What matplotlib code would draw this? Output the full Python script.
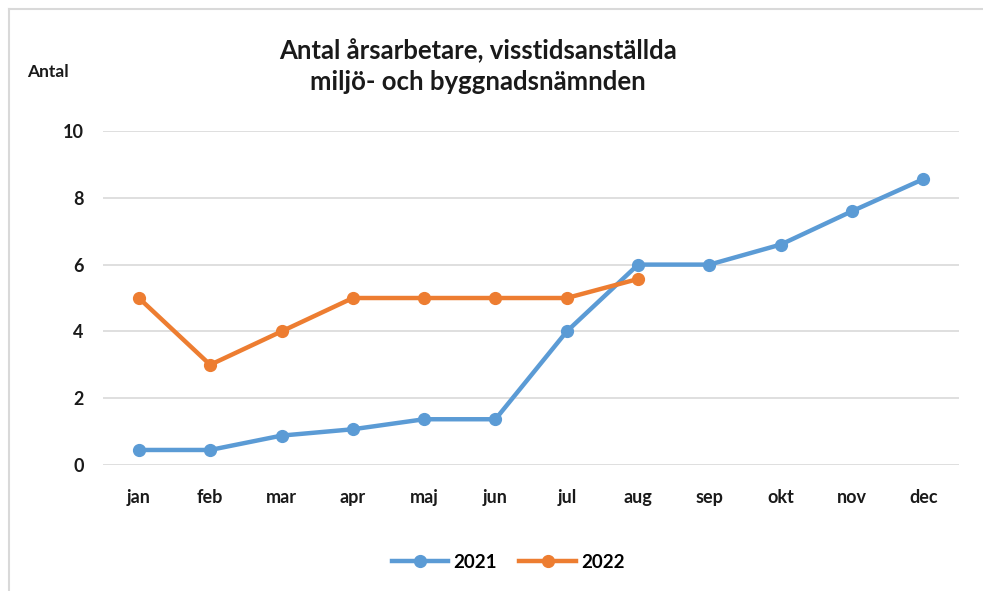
import matplotlib.pyplot as plt
from matplotlib.lines import Line2D

# data
months = ["jan", "feb", "mar", "apr", "maj", "jun", "jul", "aug", "sep", "okt", "nov", "dec"]
values_2021 = [0.45, 0.45, 0.88, 1.07, 1.37, 1.37, 4.0, 6.0, 6.0, 6.6, 7.6, 8.56]
values_2022 = [5.0, 3.0, 4.0, 5.0, 5.0, 5.0, 5.0, 5.57]
yticks = [0, 2, 4, 6, 8, 10]

plt.rcParams["font.family"] = ["Lato", "DejaVu Sans"]
plt.rcParams["font.weight"] = "bold"

blue = "#5B9BD5"
orange = "#ED7D31"

fig = plt.figure(figsize=(9.83, 5.91), dpi=100)
ax = fig.add_axes([0.105, 0.2132, 0.8706, 0.5651])

x = list(range(len(months)))
ax.plot(x, values_2021, color=blue, lw=3.2, marker="o", ms=8.5, label="2021",
        solid_capstyle="round", zorder=3)
ax.plot(x[:len(values_2022)], values_2022, color=orange, lw=3.2, marker="o", ms=8.5,
        label="2022", solid_capstyle="round", zorder=4)

ax.set_xlim(-0.5, len(months) - 0.5)
ax.set_ylim(0, 10)
ax.set_yticks(yticks)
ax.set_xticks(x)
ax.set_xticklabels(months)
ax.tick_params(axis="both", length=0, labelsize=13, colors="#1a1a1a")
ax.tick_params(axis="y", pad=14)
ax.tick_params(axis="x", pad=17)
ax.grid(axis="y", color="#d9d9d9", lw=1.2)
ax.set_axisbelow(True)
for s in ax.spines.values():
    s.set_visible(False)

fig.text(0.486, 0.888, "Antal årsarbetare, visstidsanställda\nmiljö- och byggnadsnämnden",
         ha="center", va="center", fontsize=18.5, fontweight="bold", linespacing=1.3,
         color="#1a1a1a")
fig.text(0.049, 0.878, "Antal", ha="center", va="center", fontsize=12.5,
         fontweight="bold", color="#1a1a1a")

handles = [Line2D([], [], color=blue, lw=3.2, marker="o", ms=8.5),
           Line2D([], [], color=orange, lw=3.2, marker="o", ms=8.5)]
fig.legend(handles, ["2021", "2022"], loc="center", bbox_to_anchor=(0.517, 0.049),
           ncol=2, frameon=False, fontsize=13.5, handlelength=3.0, columnspacing=1.2,
           handletextpad=0.3)

# outer chart border (top and left visible)
fig.add_artist(Line2D([0.009, 1.0], [0.985, 0.985], transform=fig.transFigure,
                      color="#d9d9d9", lw=1.5))
fig.add_artist(Line2D([0.009, 0.009], [0.0, 0.985], transform=fig.transFigure,
                      color="#d9d9d9", lw=1.5))

fig.savefig("out.png", dpi=100, facecolor="white")
